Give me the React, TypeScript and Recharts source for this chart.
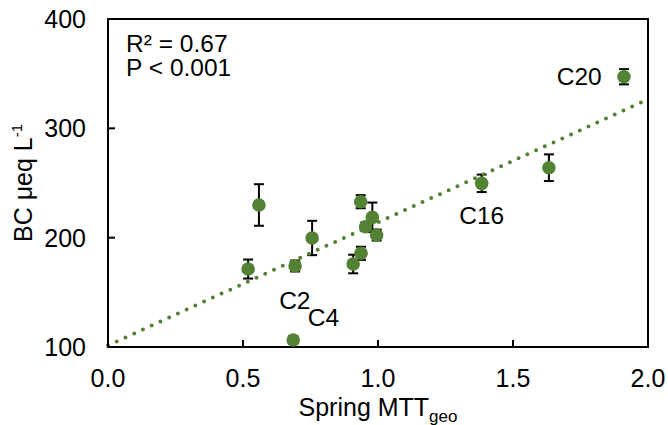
import {
  ScatterChart,
  Scatter,
  XAxis,
  YAxis,
  ErrorBar,
  ReferenceArea,
  ReferenceDot,
} from 'recharts';

// spring MTT_geo (x) vs base cations (y), with error bars
const mttGeo = [0.519, 0.559, 0.693, 0.686, 0.756, 0.908, 0.937, 0.936, 0.954, 0.979, 0.995, 1.384, 1.633, 1.911];
const bcValues = [171.3, 229.9, 174.1, 106.4, 199.7, 175.9, 185.7, 232.9, 210.0, 218.6, 202.4, 249.7, 264.0, 347.2];
const bcErrors = [8.7, 19, 5, 3.5, 15.7, 8.5, 6, 6, 4, 13.5, 5, 8, 12.2, 7];

const xTicks = [0, 0.5, 1, 1.5, 2];
const yTicks = [100, 200, 300, 400];

// linear trend endpoints
const trendX = [0, 2];
const trendY = [101.5, 326.5];

// text notes, anchored in data units
const noteTexts = ['R² = 0.67', 'P < 0.001', 'C2', 'C4', 'C16', 'C20'];
const noteX = [0.067, 0.067, 0.634, 0.74, 1.301, 1.662];
const noteY = [369.8, 348.3, 134.5, 119.5, 212.2, 339.6];

const GREEN = '#548235';
const FONT = '"Liberation Sans", Arial, sans-serif';
const FS = 25;
const NOTE_FS = 24.5;

const points = mttGeo.map((x, i) => ({ x, y: bcValues[i], err: bcErrors[i] }));
const trend = trendX.map((x, i) => ({ x, y: trendY[i] }));

const XTick = ({ x, y, payload }: any) => (
  <g>
    <line x1={x} y1={y} x2={x} y2={y - 7} stroke="#000" strokeWidth={2} />
    <text x={x} y={y + 40} textAnchor="middle" fontSize={FS} fontFamily={FONT} fill="#000">
      {Number(payload.value).toFixed(1)}
    </text>
  </g>
);

const YTick = ({ x, y, payload }: any) => (
  <g>
    <line x1={x} y1={y} x2={x + 7} y2={y} stroke="#000" strokeWidth={2} />
    <text x={x - 22} y={y + 9} textAnchor="end" fontSize={FS} fontFamily={FONT} fill="#000">
      {payload.value}
    </text>
  </g>
);

const XTitle = ({ viewBox }: any) => {
  const cx = viewBox.x + viewBox.width / 2;
  return (
    <text x={cx} y={416} textAnchor="middle" fontSize={FS} fontFamily={FONT} fill="#000">
      Spring MTT
      <tspan fontSize={17} dy={6}>geo</tspan>
    </text>
  );
};

const YTitle = ({ viewBox }: any) => {
  const cx = 31.5;
  const cy = viewBox.y + viewBox.height / 2;
  return (
    <text
      x={cx}
      y={cy}
      transform={`rotate(-90, ${cx}, ${cy})`}
      textAnchor="middle"
      fontSize={FS}
      fontFamily={FONT}
      fill="#000"
    >
      BC μeq L
      <tspan fontSize={15} dy={-10}>-1</tspan>
    </text>
  );
};

const noteLabel = (text: string) => (props: any) => (
  <text x={props.viewBox.x} y={props.viewBox.y} fontSize={NOTE_FS} fontFamily={FONT} fill="#000">
    {text}
  </text>
);

export default function App() {
  return (
    <div style={{ position: 'absolute', left: 0, top: 0, background: '#fff' }}>
      <ScatterChart width={668} height={425} margin={{ top: 19, right: 20, bottom: 0, left: 0 }}>
        <XAxis
          type="number"
          dataKey="x"
          domain={[0, 2]}
          ticks={xTicks}
          interval={0}
          height={78}
          tickSize={0}
          tickMargin={0}
          tickLine={false}
          tick={<XTick />}
          axisLine={{ stroke: '#000', strokeWidth: 2 }}
          label={<XTitle />}
        />
        <YAxis
          type="number"
          dataKey="y"
          domain={[100, 400]}
          ticks={yTicks}
          interval={0}
          width={108}
          tickSize={0}
          tickMargin={0}
          tickLine={false}
          tick={<YTick />}
          axisLine={{ stroke: '#000', strokeWidth: 2 }}
          label={<YTitle />}
        />
        <ReferenceArea
          x1={0}
          x2={2}
          y1={100}
          y2={400}
          fill="none"
          fillOpacity={0}
          stroke="#000"
          strokeWidth={2}
          ifOverflow="visible"
        />
        <Scatter
          data={trend}
          fill={GREEN}
          line={{ stroke: GREEN, strokeWidth: 4, strokeDasharray: '0 9.6', strokeLinecap: 'round' }}
          shape={() => <g />}
          isAnimationActive={false}
        />
        <Scatter
          data={points}
          fill={GREEN}
          shape={(p: any) => <circle cx={p.cx} cy={p.cy} r={6.8} fill={GREEN} />}
          isAnimationActive={false}
        >
          <ErrorBar dataKey="err" direction="y" width={5} stroke="#000" strokeWidth={2} isAnimationActive={false} />
        </Scatter>
        {noteTexts.map((t, i) => (
          <ReferenceDot
            key={t}
            x={noteX[i]}
            y={noteY[i]}
            r={0}
            fill="none"
            stroke="none"
            ifOverflow="visible"
            label={noteLabel(t)}
          />
        ))}
      </ScatterChart>
    </div>
  );
}
